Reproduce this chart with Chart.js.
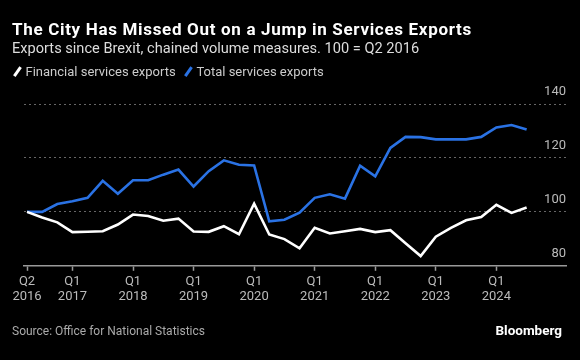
<!DOCTYPE html>
<html>
<head>
<meta charset="utf-8">
<script src="https://cdn.jsdelivr.net/npm/chart.js@4.4.1/dist/chart.umd.min.js"></script>
<style>
  html, body { margin: 0; padding: 0; background: #000; }
  #wrap { position: relative; width: 580px; height: 360px; overflow: hidden; font-family: Roboto, "Liberation Sans", sans-serif; }
  #wrap canvas { position: absolute; left: 0; top: 0; }
  .txt { position: absolute; white-space: nowrap; }
  #title { left: 12px; top: 21px; font-size: 17px; line-height: 16px; font-weight: bold; color: #fff; letter-spacing: 0.68px; }
  #sub { left: 12px; top: 41px; font-size: 14.6px; line-height: 14px; color: #ddd; }
  #legend { left: 12px; top: 65px; font-size: 13px; line-height: 14px; color: #ccc; }
  .sw { display: inline-block; width: 2.5px; height: 11px; transform: rotate(35deg); margin: 0 7px 0 4px; vertical-align: -1px; }
  #src { left: 12px; top: 325px; font-size: 12px; line-height: 13px; color: #aaa; }
  #brand { right: 18px; top: 323px; font-size: 13.5px; line-height: 14px; font-weight: bold; color: #fff; }
</style>
</head>
<body>
<div id="wrap">
  <canvas id="myChart" width="580" height="360"></canvas>
  <div class="txt" id="title">The City Has Missed Out on a Jump in Services Exports</div>
  <div class="txt" id="sub">Exports since Brexit, chained volume measures. 100 = Q2 2016</div>
  <div class="txt" id="legend"><span class="sw" style="background:#fff"></span>Financial services exports <span class="sw" style="background:#2a72e4;margin-left:8px"></span>Total services exports</div>
  <div class="txt" id="src">Source: Office for National Statistics</div>
  <div class="txt" id="brand">Bloomberg</div>
</div>
<script>
var quarters = [
    'Q2 2016', 'Q3 2016', 'Q4 2016',
    'Q1 2017', 'Q2 2017', 'Q3 2017', 'Q4 2017',
    'Q1 2018', 'Q2 2018', 'Q3 2018', 'Q4 2018',
    'Q1 2019', 'Q2 2019', 'Q3 2019', 'Q4 2019',
    'Q1 2020', 'Q2 2020', 'Q3 2020', 'Q4 2020',
    'Q1 2021', 'Q2 2021', 'Q3 2021', 'Q4 2021',
    'Q1 2022', 'Q2 2022', 'Q3 2022', 'Q4 2022',
    'Q1 2023', 'Q2 2023', 'Q3 2023', 'Q4 2023',
    'Q1 2024', 'Q2 2024', 'Q3 2024'
];
var financialExports = [
    100, 97.9, 96.1, 92.5, 92.6, 92.8, 95.3, 99.0, 98.5, 96.7, 97.5,
    92.7, 92.6, 94.7, 91.7, 103.0, 91.6, 89.9, 86.5, 94.1, 92.0, 92.8,
    93.7, 92.5, 93.2, 88.4, 83.6, 90.8, 94.1, 96.9, 98.1, 102.6, 99.6, 101.6
];
var totalExports = [
    100, 100, 102.9, 103.9, 105.2, 111.5, 106.7, 111.7, 111.7, 113.8, 115.7,
    109.4, 115.1, 119.1, 117.5, 117.2, 96.5, 97.1, 99.7, 105.2, 106.5, 104.9,
    117.1, 113.2, 123.7, 127.8, 127.7, 126.9, 126.9, 126.9, 127.8, 131.3, 132.2, 130.5
];
var xTickIdx = [0, 3, 7, 11, 15, 19, 23, 27, 31];
var yTicks = [80, 100, 120, 140];

function toPoints(values) {
    var pts = [];
    for (var i = 0; i < values.length; i++) {
        pts.push({ x: i, y: values[i] });
    }
    return pts;
}

const ctx = document.getElementById('myChart').getContext('2d');
const myChart = new Chart(ctx, {
    type: 'line',
    data: {
        datasets: [{
            label: 'Financial services exports',
            data: toPoints(financialExports),
            borderColor: '#ffffff',
            borderWidth: 2.6,
            pointRadius: 0,
            tension: 0
        }, {
            label: 'Total services exports',
            data: toPoints(totalExports),
            borderColor: '#2a72e4',
            borderWidth: 2.6,
            pointRadius: 0,
            tension: 0
        }]
    },
    options: {
        responsive: false,
        animation: false,
        layout: {
            padding: { left: 24, right: 14, top: 104, bottom: 52 }
        },
        plugins: {
            legend: { display: false },
            tooltip: { enabled: false }
        },
        scales: {
            x: {
                type: 'linear',
                min: -0.2,
                max: 35.6,
                afterBuildTicks: function(axis) {
                    axis.ticks = xTickIdx.map(function(v) { return { value: v }; });
                },
                ticks: {
                    color: '#bbb',
                    font: { family: 'Roboto', size: 13 },
                    padding: 3,
                    maxRotation: 0,
                    autoSkip: false,
                    callback: function(value) {
                        return quarters[value].split(' ');
                    }
                },
                grid: {
                    drawOnChartArea: false,
                    drawTicks: true,
                    tickLength: 5,
                    tickColor: '#999',
                    tickWidth: 1.5
                },
                border: { display: true, color: '#999', width: 1.5 }
            },
            y: {
                position: 'right',
                min: 80,
                max: 140,
                afterBuildTicks: function(axis) {
                    axis.ticks = yTicks.map(function(v) { return { value: v }; });
                },
                ticks: {
                    mirror: true,
                    padding: 0,
                    labelOffset: -12,
                    color: '#bbb',
                    font: { family: 'Roboto', size: 13 }
                },
                grid: {
                    drawTicks: false,
                    color: function(c) { return c.tick && c.tick.value === 80 ? 'rgba(0,0,0,0)' : '#666'; },
                    lineWidth: 1
                },
                border: { display: false, dash: [2, 3] }
            }
        }
    }
});
</script>
</body>
</html>
